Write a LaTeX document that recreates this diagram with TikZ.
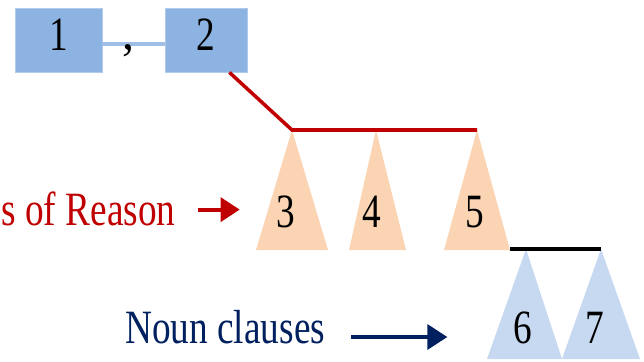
\documentclass[tikz,border=0pt]{standalone}
\usepackage{fontspec}
\setmainfont{Liberation Serif}
\usetikzlibrary{arrows.meta}
\definecolor{boxblue}{HTML}{8DB3E2}
\definecolor{paleblue}{HTML}{C6D9F1}
\definecolor{paleorange}{HTML}{FBD4B4}
\definecolor{darkred}{HTML}{C00000}
\definecolor{navyblue}{HTML}{002060}
\newcommand{\narrow}[1]{\scalebox{0.78}[1]{#1}}

\begin{document}
\begin{tikzpicture}[font=\fontsize{34}{36}\selectfont,
    box/.style={rectangle, fill=boxblue, draw=boxblue!70, line width=0.6pt,
        minimum height=1.6cm, text height=0.825cm, text depth=0.325cm, inner sep=0pt},
    lbl/.style={inner sep=0pt},
    orangetri/.style={fill=paleorange},
    bluetri/.style={fill=paleblue},
    redline/.style={darkred, line width=2.5pt},
    blackline/.style={black, line width=2.6pt},
    redarrow/.style={-{Triangle[length=0.48cm,width=0.6cm]}, darkred, line width=2.8pt},
    navyarrow/.style={-{Triangle[length=0.5cm,width=0.62cm]}, navyblue, line width=2.8pt}
]
    \useasboundingbox (0,0) rectangle (16.1,9.025);

    % top pair
    \node[box, minimum width=2.175cm] (b1) at (1.4625,8.025) {\narrow{1}};
    \node[box, minimum width=2.05cm] (b2) at (5.15,8.025) {\narrow{2}};
    \draw[boxblue!85, line width=2.2pt] ([yshift=-0.1cm]b1.east) -- ([yshift=-0.1cm]b2.west);
    \node[lbl, anchor=base] (comma) at (3.2,7.8) {,};

    % apexes
    \coordinate (a3) at (7.3,5.775);
    \coordinate (a4) at (9.4,5.775);
    \coordinate (a5) at (11.925,5.775);
    \coordinate (r5) at (12.75,2.8);
    \coordinate (a6) at (13.15,2.8);
    \coordinate (a7) at (15.025,2.8);

    \fill[orangetri] (6.4,2.775) -- (a3) -- (8.2,2.775) -- cycle;
    \fill[orangetri] (8.725,2.775) -- (a4) -- (10.15,2.775) -- cycle;
    \fill[orangetri] (11.1,2.775) -- (a5) -- (12.75,2.775) -- cycle;
    \fill[bluetri] (12.175,0.05) -- (a6) -- (14.05,0.05) -- cycle;
    \fill[bluetri] (14.05,0.05) -- (a7) -- (16.0,0.05) -- cycle;

    \node[lbl, anchor=base] (d3) at (7.15,3.35) {\narrow{3}};
    \node[lbl, anchor=base] (d4) at (9.3,3.35) {\narrow{4}};
    \node[lbl, anchor=base] (d5) at (11.875,3.35) {\narrow{5}};
    \node[lbl, anchor=base] (d6) at (13.075,0.45) {\narrow{6}};
    \node[lbl, anchor=base] (d7) at (14.875,0.45) {\narrow{7}};

    \draw[redline] ([xshift=-0.45cm]b2.south east) -- (a3) -- (a5);
    \draw[blackline] (r5) -- (a7);

    % labels
    \node[lbl, anchor=base west, text=darkred] (reason) at (0.03,3.4) {\narrow{s of Reason}};
    \node[lbl, anchor=base west, text=navyblue] (noun) at (3.125,0.45) {\narrow{Noun clauses}};
    \draw[redarrow] ([shift={(0.55,-0.03)}]reason.east) -- ++(1.05,0);
    \draw[navyarrow] ([shift={(0.65,0.15)}]noun.base east) -- ++(2.4,0);
\end{tikzpicture}
\end{document}
